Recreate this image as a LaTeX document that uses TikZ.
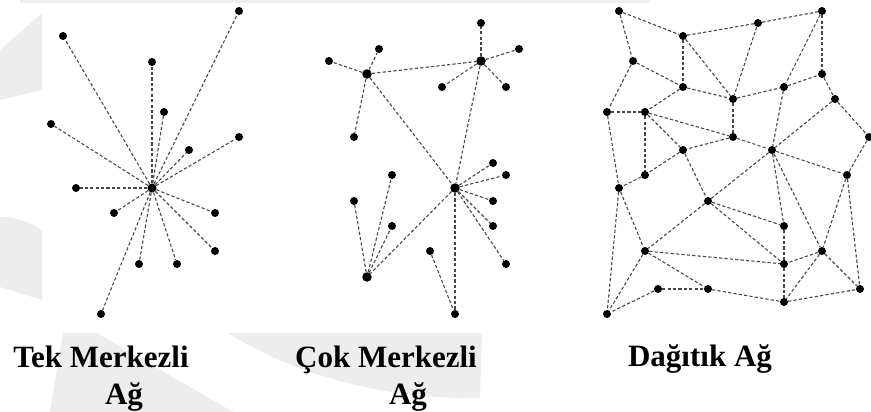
\documentclass[tikz,border=0pt]{standalone}
\usepackage{fontspec}
\setmainfont{Liberation Serif}
\begin{document}
\begin{tikzpicture}[x=1pt,y=-1pt,
  dot/.style={circle,fill=black,inner sep=0pt,minimum size=8pt},
  hub/.style={circle,fill=black,inner sep=0pt,minimum size=9.5pt},
  link/.style={draw=black!72,dash pattern=on 3.2pt off 2.2pt,line width=1.1pt},
  wm/.style={fill=black!7,draw=none},
  lbl/.style={anchor=base,inner sep=0pt,font=\fontsize{31}{37}\selectfont\bfseries}]
\useasboundingbox (0,0) rectangle (871,412);
% faint watermark
\fill[wm] (0,50) -- (42,13) -- (42,90) -- (0,100) -- cycle;
\fill[wm] (0,217) .. controls (15,217) and (30,222) .. (42,230) -- (42,300) -- (0,287) -- cycle;
\fill[wm] (63,333) -- (97,333) -- (233,412) -- (50,412) -- cycle;
\fill[wm] (228,333) .. controls (290,372) and (380,400) .. (480,398) -- (482,333) -- cycle;
\fill[wm] (20,0) rectangle (650,3);

% ---------- Tek Merkezli Ag ----------
\node[dot,minimum size=9pt] (c) at (152,188) {};
\foreach \i/\x/\y in {1/239/11, 2/63/36, 3/152/62, 4/164/112, 5/51/124, 6/239/137,
  7/189/150, 8/76/188, 9/114/213, 10/215/213, 11/215/251, 12/139/264, 13/177/264, 14/101/314}{
  \node[dot] (s\i) at (\x,\y) {};
  \draw[link] (c) -- (s\i);
}

% ---------- Cok Merkezli Ag ----------
\node[hub] (A) at (367,74) {};
\node[hub] (B) at (481,61) {};
\node[hub] (C) at (455,188) {};
\node[hub] (D) at (367,277) {};
\draw[link] (A) -- (B);
\draw[link] (A) -- (C);
\draw[link] (B) -- (C);
\draw[link] (C) -- (D);
\foreach \i/\x/\y in {1/379/49, 2/329/61, 3/354/137}{
  \node[dot] (a\i) at (\x,\y) {}; \draw[link] (A) -- (a\i);}
\foreach \i/\x/\y in {1/481/23, 2/519/49, 3/442/87, 4/506/87}{
  \node[dot] (b\i) at (\x,\y) {}; \draw[link] (B) -- (b\i);}
\foreach \i/\x/\y in {1/493/163, 2/506/175, 3/493/201, 4/493/226, 5/506/264, 6/455/314}{
  \node[dot] (m\i) at (\x,\y) {}; \draw[link] (C) -- (m\i);}
\foreach \i/\x/\y in {1/392/175, 2/354/201, 3/392/226}{
  \node[dot] (d\i) at (\x,\y) {}; \draw[link] (D) -- (d\i);}
\node[dot] (e1) at (430,251) {};
\draw[link] (e1) -- (m6);

% ---------- Dagitik Ag ----------
\foreach \i/\x/\y in {1/619/11, 2/822/11, 3/758/23, 4/683/36, 5/633/61, 6/822/74,
  7/683/87, 8/784/87, 9/733/99, 10/835/99, 11/607/112, 12/645/112, 13/733/137,
  14/869/137, 15/683/150, 16/772/150, 17/645/175, 18/847/175, 19/619/188,
  20/708/201, 21/784/226, 22/645/251, 23/822/251, 24/784/264, 25/658/289,
  26/708/289, 27/860/289, 28/784/302, 29/607/314}{
  \node[dot] (n\i) at (\x,\y) {};
}
\foreach \u/\v in {1/4, 1/5, 4/3, 3/2, 4/7, 4/9, 3/9, 2/8, 2/6, 5/7, 5/11,
  7/9, 7/12, 9/8, 8/6, 6/10, 9/13, 11/12, 11/19, 12/13, 12/15, 12/17,
  13/15, 13/16, 8/16, 10/16, 10/14, 14/18, 16/18, 15/17, 17/19, 15/20,
  16/20, 16/21, 16/23, 20/21, 20/22, 20/24, 21/24, 18/23, 18/27, 19/22,
  19/29, 22/24, 22/26, 22/29, 23/24, 23/27, 23/28, 24/28, 25/26, 25/29,
  26/28, 28/27}{
  \draw[link] (n\u) -- (n\v);
}

% ---------- labels ----------
\node[lbl] (t1) at (101,367) {Tek Merkezli};
\node[lbl] (t2) at (124,404) {Ağ};
\node[lbl] (t3) at (386,367) {Çok Merkezli};
\node[lbl] (t4) at (408,404) {Ağ};
\node[lbl] (t5) at (700,366) {Dağıtık Ağ};
\end{tikzpicture}
\end{document}
